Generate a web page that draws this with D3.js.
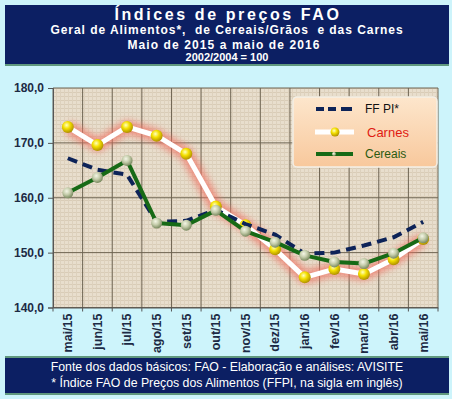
<!DOCTYPE html>
<html><head><meta charset="utf-8">
<script src="https://cdn.jsdelivr.net/npm/d3@7"></script>
<style>body{margin:0;background:#cdf4fb;}svg{display:block;}text{white-space:pre;}</style>
</head><body>
<script>
const months = ["mai/15","jun/15","jul/15","ago/15","set/15","out/15","nov/15","dez/15","jan/16","fev/16","mar/16","abr/16","mai/16"];
const ffpi    = [167.2,165.1,164.2,155.6,155.8,157.8,155.2,153.3,149.8,150.0,151.3,152.8,155.6];
const carnes  = [172.9,169.6,172.9,171.3,168.0,158.4,155.0,150.6,145.5,147.0,146.1,148.8,152.5];
const cereais = [160.9,163.7,166.8,155.4,155.0,157.7,153.9,151.9,149.5,148.3,148.0,149.9,152.7];
const yTicks = [140,150,160,170,180];
const titleLines = ["Índices de preços FAO","Geral de Alimentos*,  de Cereais/Grãos  e das Carnes","Maio de 2015 a maio de 2016","2002/2004 = 100"];
const footLines = ["Fonte dos dados básicos: FAO - Elaboração e análises: AVISITE","* Índice FAO de Preços dos Alimentos (FFPI, na sigla em inglês)"];

const W=452,H=399;
const svg=d3.select("body").append("svg").attr("width",W).attr("height",H);
const defs=svg.append("defs");
const pat=defs.append("pattern").attr("id","tex").attr("width",4).attr("height",4).attr("patternUnits","userSpaceOnUse");
pat.append("rect").attr("width",4).attr("height",4).attr("fill","#e8decd");
pat.append("rect").attr("width",4).attr("height",1).attr("fill","#d9ccb7");
pat.append("rect").attr("width",1).attr("height",4).attr("fill","#ddd1bd");
const gY=defs.append("radialGradient").attr("id","gy").attr("cx","40%").attr("cy","35%").attr("r","65%");
gY.append("stop").attr("offset","0%").attr("stop-color","#ffffc0");
gY.append("stop").attr("offset","45%").attr("stop-color","#f4e000");
gY.append("stop").attr("offset","100%").attr("stop-color","#b09000");
const gG=defs.append("radialGradient").attr("id","gg").attr("cx","40%").attr("cy","35%").attr("r","65%");
gG.append("stop").attr("offset","0%").attr("stop-color","#f4f6e6");
gG.append("stop").attr("offset","50%").attr("stop-color","#c4ccaa");
gG.append("stop").attr("offset","100%").attr("stop-color","#7a8a60");
const blur=defs.append("filter").attr("id","glow").attr("x","-20%").attr("y","-20%").attr("width","140%").attr("height","140%");
blur.append("feGaussianBlur").attr("stdDeviation",3.5);
const lg=defs.append("linearGradient").attr("id","leg").attr("x1",0).attr("y1",0).attr("x2",0).attr("y2",1);
lg.append("stop").attr("offset","0%").attr("stop-color","#fde6cc");
lg.append("stop").attr("offset","100%").attr("stop-color","#f8c89c");

const lf="Arial, 'Liberation Sans', sans-serif";
// title box
svg.append("rect").attr("x",5).attr("y",5).attr("width",444).attr("height",59).attr("fill","#0c1f63");
svg.append("line").attr("x1",5).attr("x2",449).attr("y1",65).attr("y2",65).attr("stroke","#3b7a55").attr("stroke-width",1.5);
const tt=svg.append("g").attr("fill","#fff").attr("font-family",lf).attr("font-weight","bold").attr("text-anchor","middle");
tt.append("text").attr("x",228).attr("y",20).attr("font-size",16).attr("letter-spacing",2.6).text(titleLines[0]);
tt.append("text").attr("x",227).attr("y",34).attr("font-size",12).attr("letter-spacing",0.95).text(titleLines[1]);
tt.append("text").attr("x",224).attr("y",49).attr("font-size",12).attr("letter-spacing",1.1).text(titleLines[2]);
tt.append("text").attr("x",227).attr("y",61).attr("font-size",11).text(titleLines[3]);

// plot
const L=53,R=438,T=88,B=307.5;
const x=d3.scaleBand().domain(months).range([L,R]);
const y=d3.scaleLinear().domain([140,180]).range([B,T]);
svg.append("rect").attr("x",L).attr("y",T).attr("width",R-L).attr("height",B-T).attr("fill","url(#tex)");
const grid=svg.append("g").attr("stroke","#6e6452").attr("stroke-width",1);
yTicks.forEach(v=>grid.append("line").attr("x1",L).attr("x2",R).attr("y1",y(v)).attr("y2",y(v)));
months.forEach(m=>grid.append("line").attr("x1",x(m)).attr("x2",x(m)).attr("y1",T).attr("y2",B));
grid.append("line").attr("x1",R).attr("x2",R).attr("y1",T).attr("y2",B);

const yAxis=svg.append("g").attr("transform",`translate(${L},0)`).call(d3.axisLeft(y).tickValues(yTicks).tickSize(5).tickFormat(d=>d3.format(".1f")(d).replace(".",",")));
yAxis.select(".domain").attr("stroke","#555");
yAxis.selectAll("line").attr("stroke","#555");
yAxis.selectAll("text").attr("font-family",lf).attr("font-size",12).attr("font-weight","bold").attr("fill","#1c2a44").attr("dx",-1);

const xAxis=svg.append("g").attr("transform",`translate(0,${B})`).call(d3.axisBottom(x).tickSize(0));
xAxis.select(".domain").attr("stroke","#555");
months.forEach(m=>xAxis.append("line").attr("x1",x(m)).attr("x2",x(m)).attr("y1",0).attr("y2",4).attr("stroke","#555"));
xAxis.append("line").attr("x1",R).attr("x2",R).attr("y1",0).attr("y2",4).attr("stroke","#555");
xAxis.selectAll(".tick text").attr("font-family",lf).attr("font-size",12.5).attr("font-weight","bold").attr("fill","#1c2a44")
  .attr("transform","rotate(-90)").attr("text-anchor","end").attr("x",-6).attr("y",0).attr("dy","0.35em");

const cx=m=>x(m)+x.bandwidth()/2;
const line=d3.line().x((d,i)=>cx(months[i])).y(d=>y(d));
// Carnes
svg.append("path").datum(carnes).attr("d",line).attr("fill","none").attr("stroke","#f07060").attr("stroke-width",13).attr("stroke-linejoin","round").attr("opacity",0.7).attr("filter","url(#glow)");
svg.append("path").datum(carnes).attr("d",line).attr("fill","none").attr("stroke","#fff").attr("stroke-width",5).attr("stroke-linejoin","round");
svg.append("g").selectAll("circle").data(carnes).join("circle").attr("cx",(d,i)=>cx(months[i])).attr("cy",d=>y(d)).attr("r",6).attr("fill","url(#gy)");
// FFPI
svg.append("path").datum(ffpi).attr("d",line).attr("fill","none").attr("stroke","#0d2358").attr("stroke-width",4).attr("stroke-dasharray","10,6");
// Cereais
svg.append("path").datum(cereais).attr("d",line).attr("fill","none").attr("stroke","#176a16").attr("stroke-width",4).attr("stroke-linejoin","round");
svg.append("g").selectAll("circle").data(cereais).join("circle").attr("cx",(d,i)=>cx(months[i])).attr("cy",d=>y(d)).attr("r",5.5).attr("fill","url(#gg)");

// legend
const lgG=svg.append("g");
lgG.append("rect").attr("x",293).attr("y",97).attr("width",144).attr("height",70).attr("rx",4).attr("fill","url(#leg)").attr("stroke","#f3efe6").attr("stroke-width",1.5);
lgG.append("line").attr("x1",316).attr("x2",353).attr("y1",109).attr("y2",109).attr("stroke","#0d2358").attr("stroke-width",4).attr("stroke-dasharray","8,4,8,5,3,0");
lgG.append("text").attr("x",365).attr("y",113).attr("font-family",lf).attr("font-size",12).attr("fill","#111").text("FF PI*");
lgG.append("line").attr("x1",315).attr("x2",354).attr("y1",132).attr("y2",132).attr("stroke","#fff").attr("stroke-width",5);
lgG.append("circle").attr("cx",335).attr("cy",132).attr("r",4.5).attr("fill","url(#gy)");
lgG.append("text").attr("x",367).attr("y",137).attr("font-family",lf).attr("font-size",13).attr("fill","#e01b12").text("Carnes");
lgG.append("line").attr("x1",316).attr("x2",353).attr("y1",154).attr("y2",154).attr("stroke","#176a16").attr("stroke-width",4);
lgG.append("circle").attr("cx",334).attr("cy",154).attr("r",2).attr("fill","url(#gg)");
lgG.append("text").attr("x",365).attr("y",158).attr("font-family",lf).attr("font-size",12).attr("fill","#2b5a10").text("Cereais");

// footer
svg.append("line").attr("x1",5).attr("x2",449).attr("y1",357).attr("y2",357).attr("stroke","#3b7a55").attr("stroke-width",1.5);
svg.append("rect").attr("x",5).attr("y",358).attr("width",444).attr("height",35).attr("fill","#0c1f63");
svg.append("line").attr("x1",5).attr("x2",449).attr("y1",394).attr("y2",394).attr("stroke","#3b7a55").attr("stroke-width",1.5);
const ft=svg.append("g").attr("fill","#fff").attr("font-family",lf).attr("font-size",12.3).attr("text-anchor","middle");
ft.append("text").attr("x",227).attr("y",371).text(footLines[0]);
ft.append("text").attr("x",227).attr("y",387).text(footLines[1]);
</script>
</body></html>
